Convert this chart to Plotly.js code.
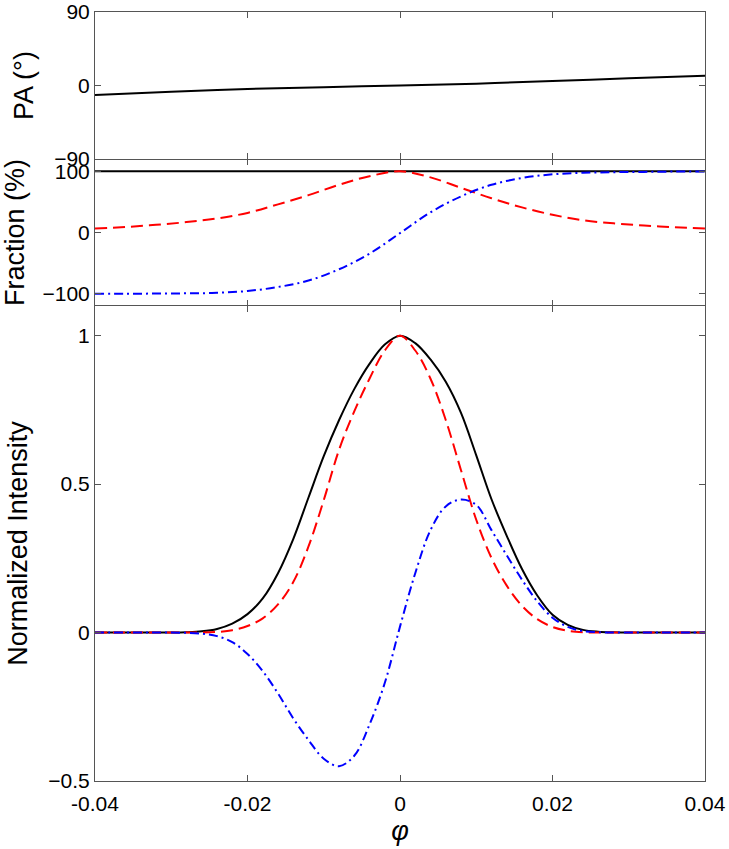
<!DOCTYPE html>
<html>
<head>
<meta charset="utf-8">
<script src="https://cdn.plot.ly/plotly-3.0.1.min.js"></script>
<style>
  body { margin: 0; background: #fff; }
  #chart { width: 729px; height: 849px; }
</style>
</head>
<body>
<div id="chart"></div>
<script>
// pulse phase, intensity panel
var phi = [-0.040, -0.038, -0.036, -0.034, -0.032, -0.030, -0.028, -0.026, -0.024, -0.022,
           -0.020, -0.018, -0.016, -0.014, -0.012, -0.010, -0.008, -0.006, -0.004, -0.002,
            0.000,  0.002,  0.004,  0.006,  0.008,  0.010,  0.012,  0.014,  0.016,  0.018,
            0.020,  0.022,  0.024,  0.026,  0.028,  0.030,  0.032,  0.034,  0.036,  0.038, 0.040];

var intensity = [0, 0, 0, 0, 0, 0, 0.001, 0.004, 0.012, 0.030,
                 0.062, 0.115, 0.200, 0.315, 0.455, 0.594, 0.715, 0.82, 0.905, 0.97,
                 1.0, 0.975, 0.92, 0.845, 0.74, 0.597, 0.449, 0.326, 0.214, 0.125,
                 0.060, 0.026, 0.009, 0.003, 0.001, 0, 0, 0, 0, 0, 0];

var linear = [0, 0, 0, 0, 0, 0, 0, 0, 0.002, 0.008,
              0.022, 0.048, 0.095, 0.17, 0.29, 0.446, 0.615, 0.745, 0.855, 0.95,
              1.0, 0.95, 0.855, 0.716, 0.547, 0.38, 0.251, 0.158, 0.09, 0.045,
              0.019, 0.006, 0.001, 0, 0, 0, 0, 0, 0, 0, 0];

var circular = [0, 0, 0, 0, 0, 0, -0.001, -0.004, -0.012, -0.032,
                -0.072, -0.13, -0.205, -0.289, -0.362, -0.425, -0.45, -0.415, -0.31, -0.17,
                0.02, 0.2, 0.345, 0.425, 0.448, 0.43, 0.345, 0.26, 0.178, 0.105,
                0.05, 0.019, 0.005, 0.001, 0, 0, 0, 0, 0, 0, 0];

// fraction panel
var phiFrac = [-0.040, -0.036, -0.032, -0.028, -0.024, -0.020, -0.016, -0.012, -0.008, -0.004,
                0.000,  0.004,  0.008,  0.012,  0.016,  0.020,  0.024,  0.028,  0.032,  0.036, 0.040];
var fracTotal = [100, 100, 100, 100, 100, 100, 100, 100, 100, 100,
                 100, 100, 100, 100, 100, 100, 100, 100, 100, 100, 100];
var fracLinear = [6.5, 9, 12.5, 17, 23, 32, 46, 61, 78, 92,
                  100, 90, 73, 56, 41, 29, 20, 15, 11.5, 8.5, 6.5];
var fracCircular = [-100, -100, -99.7, -99.3, -98.5, -95.5, -89, -78.5, -60, -34.5,
                    -1, 33, 59, 78, 89, 95, 97.5, 98.5, 99, 99.5, 99.5];

// position angle panel
var phiPA = [-0.04, -0.03, -0.02, -0.01, 0, 0.01, 0.02, 0.03, 0.04];
var pa = [-11.5, -7.5, -4.3, -2, 0, 2.3, 5.5, 8.8, 12];

var font = 'Liberation Sans, Arial, Helvetica, sans-serif';
var frame = '#555555';
var redDash = '12px,6px';
var blueDash = '9px,4px,2px,4px';

function line(x, y, color, dash, xa, ya) {
  return {
    x: x, y: y, xaxis: xa, yaxis: ya, type: 'scatter', mode: 'lines',
    line: { color: color, width: 2, dash: dash, shape: 'spline', smoothing: 1 },
    hoverinfo: 'skip'
  };
}

var data = [
  line(phi, intensity, '#000000', 'solid', 'x', 'y'),
  line(phi, linear, '#ff0000', redDash, 'x', 'y'),
  line(phi, circular, '#0000ff', blueDash, 'x', 'y'),
  line(phiFrac, fracTotal, '#000000', 'solid', 'x2', 'y2'),
  line(phiFrac, fracLinear, '#ff0000', redDash, 'x2', 'y2'),
  line(phiFrac, fracCircular, '#0000ff', blueDash, 'x2', 'y2'),
  line(phiPA, pa, '#000000', 'solid', 'x3', 'y3')
];

function xAxis(anchor, labels, showline) {
  return {
    anchor: anchor, domain: [0, 1], range: [-0.04, 0.04],
    tickvals: [-0.04, -0.02, 0, 0.02, 0.04],
    ticktext: ['-0.04', '-0.02', '0', '0.02', '0.04'],
    showticklabels: labels, ticks: 'inside', ticklen: 6, tickcolor: frame,
    showline: showline, linecolor: frame, linewidth: 1, mirror: 'ticks',
    showgrid: false, zeroline: false, ticklabelstandoff: 4,
    tickfont: { family: font, size: 21, color: '#000' }
  };
}

function yAxis(anchor, domain, range, vals, title) {
  return {
    anchor: anchor, domain: domain, range: range, tickvals: vals,
    ticks: 'inside', ticklen: 6, tickcolor: frame,
    showline: true, linecolor: frame, linewidth: 1, mirror: 'ticks',
    showgrid: false, zeroline: false,
    tickfont: { family: font, size: 21, color: '#000' },
    title: { text: title, font: { family: font, size: 27, color: '#000' }, standoff: 12 }
  };
}

// middle panel borders come from the neighbouring panels' frames
var xa = xAxis('y', true, true);
xa.title = { text: '<i>φ</i>', font: { family: font, size: 27, color: '#000' }, standoff: 6 };

var layout = {
  width: 729, height: 849,
  margin: { l: 95, r: 24, t: 12, b: 68 },
  paper_bgcolor: '#ffffff', plot_bgcolor: '#ffffff',
  showlegend: false,
  xaxis: xa,
  xaxis2: xAxis('y2', false, false),
  xaxis3: xAxis('y3', false, true),
  yaxis: yAxis('x', [0, 0.6177], [-0.5, 1.1], [-0.5, 0, 0.5, 1], 'Normalized Intensity'),
  yaxis2: yAxis('x2', [0.6177, 0.8088], [-120, 120], [-100, 0, 100], 'Fraction (%)'),
  yaxis3: yAxis('x3', [0.8088, 1], [-90, 90], [-90, 0, 90], 'PA (°)')
};

Plotly.newPlot('chart', data, layout, { staticPlot: true, displayModeBar: false });
</script>
</body>
</html>
